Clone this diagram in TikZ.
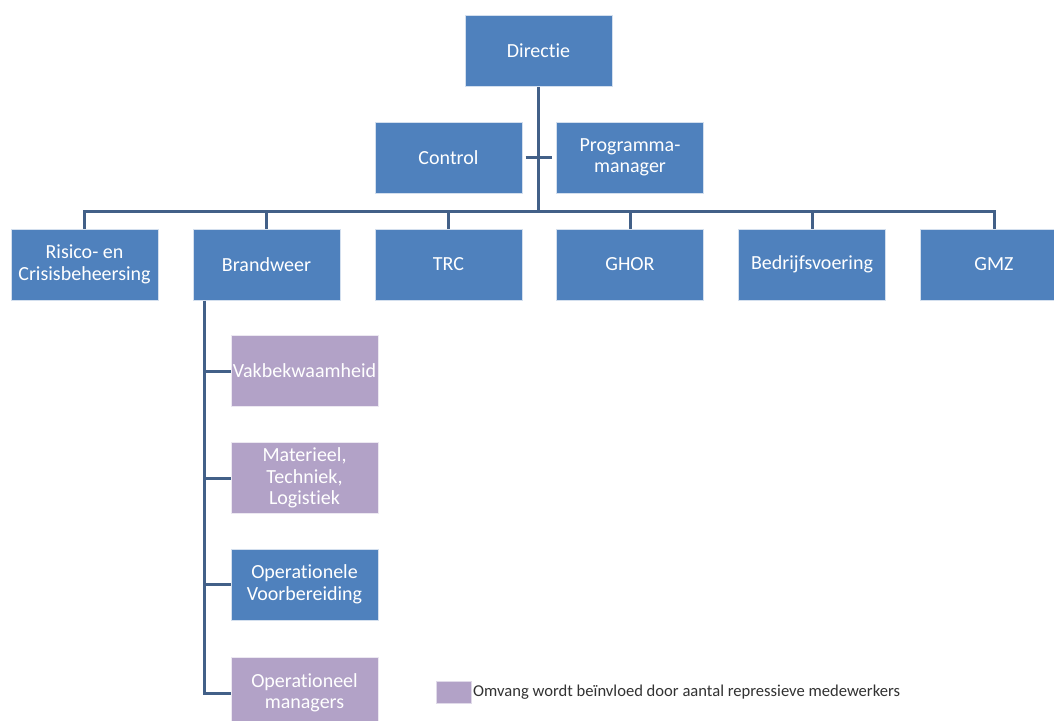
\documentclass[tikz,border=0pt]{standalone}
\usepackage{fontspec}
\setmainfont{Carlito}[Ligatures={NoCommon,NoRequired,NoContextual}]
\usetikzlibrary{calc}
\definecolor{boxblue}{RGB}{79,129,189}
\definecolor{boxpurple}{RGB}{178,162,199}
\definecolor{conncol}{RGB}{66,96,136}
\definecolor{legtext}{RGB}{50,50,50}
\tikzset{
  orgbox/.style={draw=white!75!boxblue, line width=1pt, fill=boxblue, text=white,
    minimum width=147pt, minimum height=71pt, inner sep=0pt, align=center,
    font=\fontsize{20}{21.5}\selectfont},
  subbox/.style={orgbox, fill=boxpurple, draw=white!75!boxpurple},
  conn/.style={draw=conncol, line width=3pt},
}
\begin{document}
\begin{tikzpicture}[x=1pt,y=-1pt]
\useasboundingbox (0,0) rectangle (1054,720);
\clip (0,0) rectangle (1054,720);
\fill[white] (0,0) rectangle (1054,720);

\coordinate (bus) at (0,211);

\node[orgbox] (dir) at (538.5,51) {Directie};
\node[orgbox] (ctrl) at (448.5,157.5) {Control};
\node[orgbox] (prog) at (630,157.5) {Programma-\\manager};

\node[orgbox] (risk) at (84.5,264.5) {Risico- en\\Crisisbeheersing};
\node[orgbox] (brand) at (266.5,264.5) {Brandweer};
\node[orgbox] (trc) at (448.5,264.5) {TRC};
\node[orgbox] (ghor) at (630,264.5) {GHOR};
\node[orgbox] (bedr) at (812,264.5) {Bedrijfsvoering};
\node[orgbox] (gmz) at (994,264.5) {GMZ};

\node[subbox] (vak) at (304.5,371) {Vakbekwaamheid};
\node[subbox] (mat) at (304.5,478) {Materieel,\\Techniek,\\Logistiek};
\node[orgbox] (opv) at (304.5,584.5) {Operationele\\Voorbereiding};
\node[subbox] (om) at (304.5,693) {Operationeel\\managers};

% connectors
\draw[conn] (dir.south) -- (dir.south |- bus);
\draw[conn] ($(ctrl.east)+(3,0)$) -- ($(prog.west)+(-4,0)$);
\draw[conn] (risk.north) -- (risk.north |- bus) -| (gmz.north);
\foreach \n in {brand,trc,ghor,bedr}{
  \draw[conn] (\n.north) -- (\n.north |- bus);
}
\draw[conn] ($(brand.south west)+(12,0)$) coordinate (bv) |- (om.west);
\foreach \n in {vak,mat,opv}{
  \draw[conn] (\n.west) -- (\n.west -| bv);
}

% legend
\node[fill=boxpurple, draw=white!60!boxpurple, line width=0.6pt, minimum width=35pt, minimum height=22pt, inner sep=0pt] (legbox) at (453.5,692) {};
\node[anchor=west, inner sep=0pt, text=legtext, font=\fontsize{16.6}{20}\selectfont] (legtxt) at (473,692) {Omvang wordt beïnvloed door aantal repressieve medewerkers};
\end{tikzpicture}
\end{document}
